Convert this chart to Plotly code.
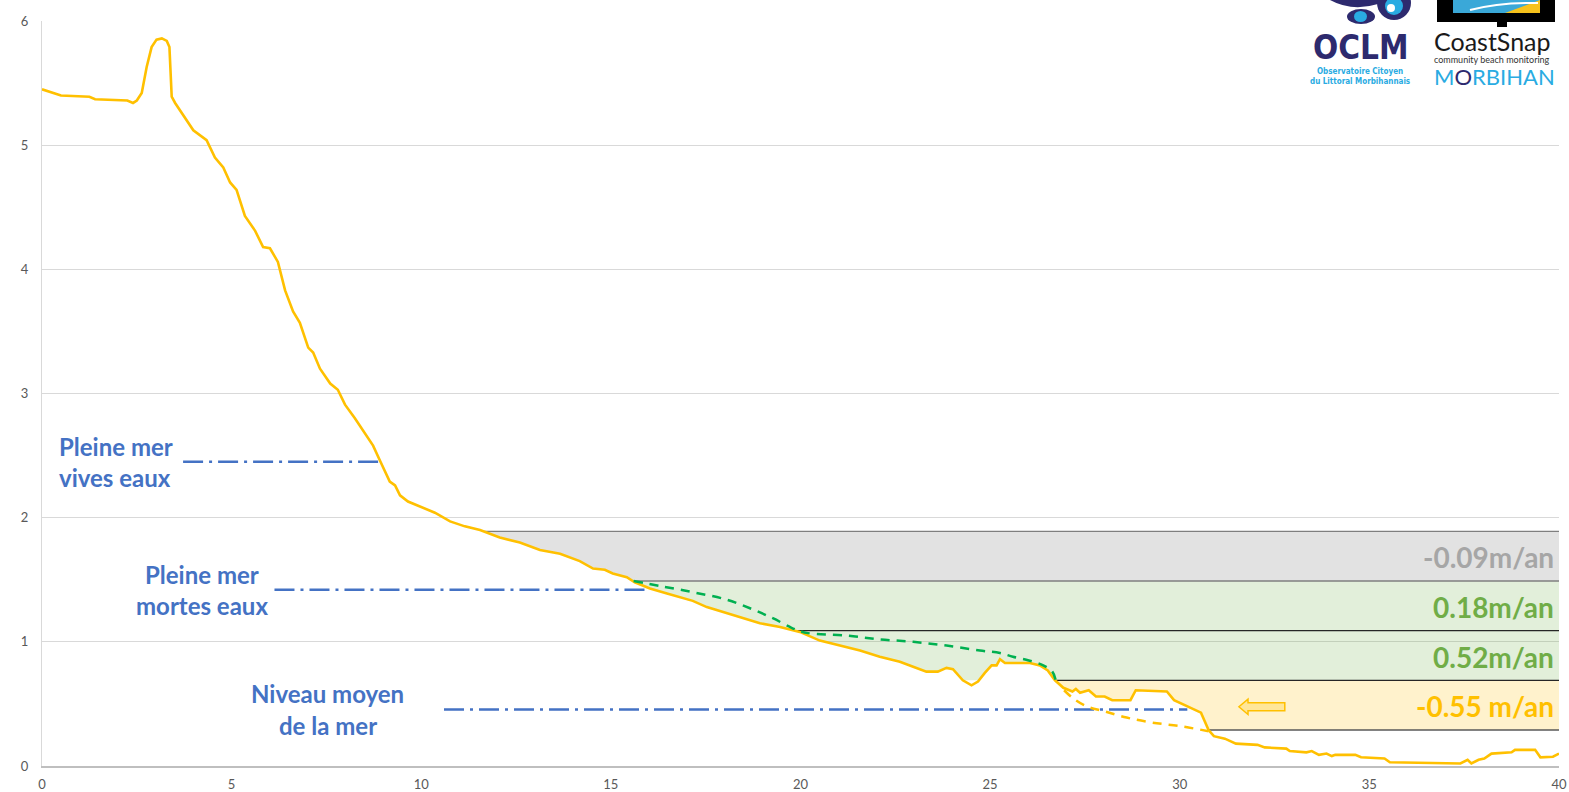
import numpy as np
import plotly.graph_objects as go

# ---------------- data ----------------
dist = [0.00, 0.20, 0.50, 1.25, 1.40, 2.25, 2.40, 2.50, 2.63, 2.76, 2.89, 3.02, 3.16, 3.29, 3.36,
        3.42, 3.51, 3.99, 4.34, 4.56, 4.78, 4.96, 5.13, 5.35, 5.62, 5.83, 6.01, 6.22, 6.41, 6.62,
        6.80, 7.02, 7.15, 7.33, 7.60, 7.80, 7.99, 8.25, 8.52, 8.73, 8.91, 9.04, 9.17, 9.31, 9.44,
        9.65, 9.97, 10.36, 10.76, 11.15, 11.55, 12.07, 12.60, 13.13, 13.66, 14.18, 14.53, 14.84,
        15.05, 15.42, 15.63, 16.03, 16.48, 16.82, 17.16, 17.53, 17.95, 18.40, 18.93, 19.46, 19.98,
        20.51, 21.04, 21.57, 22.09, 22.62, 22.97, 23.32, 23.62, 23.85, 24.02, 24.28, 24.51, 24.68,
        24.86, 25.04, 25.17, 25.26, 25.39, 26.05, 26.31, 26.52, 26.71, 26.93, 27.17, 27.26, 27.37,
        27.60, 27.79, 28.02, 28.22, 28.70, 28.84, 29.66, 29.85, 30.13, 30.43, 30.56, 30.76, 30.90,
        31.19, 31.48, 32.05, 32.24, 32.81, 32.90, 33.34, 33.48, 33.67, 33.87, 34.01, 34.10, 34.63,
        34.78, 35.40, 35.54, 37.40, 37.59, 37.69, 37.88, 38.03, 38.22, 38.75, 38.84, 39.37, 39.51,
        39.84, 40.00]
elev = [5.45, 5.43, 5.40, 5.39, 5.37, 5.36, 5.34, 5.36, 5.42, 5.63, 5.79, 5.85, 5.86, 5.84, 5.79,
        5.39, 5.34, 5.12, 5.04, 4.90, 4.82, 4.70, 4.64, 4.43, 4.31, 4.18, 4.17, 4.06, 3.83, 3.66,
        3.57, 3.37, 3.33, 3.20, 3.08, 3.03, 2.91, 2.80, 2.67, 2.58, 2.46, 2.37, 2.29, 2.26, 2.18,
        2.13, 2.09, 2.04, 1.97, 1.93, 1.90, 1.84, 1.80, 1.74, 1.71, 1.65, 1.59, 1.58,
        1.55, 1.52, 1.48, 1.43, 1.39, 1.36, 1.33, 1.28, 1.24, 1.20, 1.15, 1.12, 1.08,
        1.01, 0.97, 0.93, 0.88, 0.84, 0.80, 0.76, 0.76, 0.79, 0.78, 0.69, 0.65, 0.68,
        0.75, 0.81, 0.81, 0.86, 0.83, 0.83, 0.81, 0.77, 0.69, 0.63, 0.60, 0.62, 0.59,
        0.61, 0.56, 0.56, 0.53, 0.53, 0.61, 0.60, 0.53, 0.49, 0.45, 0.43, 0.29, 0.24,
        0.22, 0.18, 0.17, 0.15, 0.14, 0.12, 0.11, 0.12, 0.09, 0.10, 0.08, 0.09, 0.09,
        0.07, 0.06, 0.03, 0.02, 0.05, 0.02, 0.05, 0.06, 0.10, 0.11, 0.13, 0.13, 0.07,
        0.075, 0.10]

green_dash_x = [15.60, 16.29, 17.16, 18.05, 18.75, 19.27, 19.72, 19.95, 20.20, 21.21, 22.09, 22.97,
                23.85, 24.73, 25.26, 25.60, 26.02, 26.40, 26.64, 26.73]
green_dash_y = [1.49, 1.45, 1.40, 1.34, 1.26, 1.19, 1.12, 1.09, 1.07, 1.05, 1.02, 1.00,
                0.97, 0.93, 0.91, 0.88, 0.85, 0.81, 0.76, 0.69]

orange_dash_x = [26.95, 27.17, 27.55, 28.02, 28.60, 29.27, 30.03, 30.76]
orange_dash_y = [0.61, 0.55, 0.48, 0.44, 0.39, 0.35, 0.32, 0.28]

band_levels = [1.89, 1.49, 1.09, 0.69, 0.29]
band_rates = ["-0.09m/an", "0.18m/an", "0.52m/an", "-0.55 m/an"]

tide_names = [["Pleine mer", "vives eaux"], ["Pleine mer", "mortes eaux"], ["Niveau moyen", "de la mer"]]
tide_levels = [2.45, 1.42, 0.455]
tide_start = [3.72, 6.13, 10.6]
tide_end = [8.96, 16.02, 30.2]

x_ticks = [0, 5, 10, 15, 20, 25, 30, 35, 40]
y_ticks = [0, 1, 2, 3, 4, 5, 6]

# ---------------- styles ----------------
ORANGE = "#ffc000"
BLUE = "#4472c4"
GREEN = "#70ad47"
GREEN_DASH = "#00b050"
GREY_TXT = "#a6a6a6"
FONT = "Lato, Open Sans, sans-serif"

X = np.array(dist, dtype=float)
Y = np.array(elev, dtype=float)


def last_down_cross(level):
    xc = None
    for i in range(len(X) - 1):
        if Y[i] >= level > Y[i + 1]:
            t = (Y[i] - level) / (Y[i] - Y[i + 1])
            xc = (X[i] + t * (X[i + 1] - X[i]), i)
    return xc


def band_polygon(lo, hi):
    x0, i0 = last_down_cross(hi)
    px, py = [x0], [hi]
    for j in range(i0 + 1, len(X)):
        xa, ya, xb, yb = X[j - 1], Y[j - 1], X[j], Y[j]
        for lev in (lo, hi):
            if (ya - lev) * (yb - lev) < 0:
                t = (ya - lev) / (ya - yb)
                xi = xa + t * (xb - xa)
                if xi > x0:
                    px.append(xi)
                    py.append(lev)
        px.append(xb)
        py.append(min(max(yb, lo), hi))
    order = np.argsort(px, kind="stable")
    px = list(np.array(px)[order])
    py = list(np.array(py)[order])
    return px + [X[-1], x0], py + [hi, hi]


fig = go.Figure()

# band fills
fills = [(band_levels[1], band_levels[0], "rgba(0,0,0,0.115)"),
         (band_levels[3], band_levels[1], "rgba(112,173,71,0.2)"),
         (band_levels[4], band_levels[3], "rgba(255,192,0,0.2)")]
for lo, hi, col in fills:
    bx, by = band_polygon(lo, hi)
    fig.add_trace(go.Scatter(x=bx, y=by, mode="lines", fill="toself", fillcolor=col,
                             line=dict(width=0), hoverinfo="skip"))

# band boundary lines
line_cols = ["#7f7f7f", "#7f7f7f", "#262626", "#262626", "#595959"]
for lev, col in zip(band_levels, line_cols):
    xs, _ = last_down_cross(lev)
    fig.add_trace(go.Scatter(x=[xs, X[-1]], y=[lev, lev], mode="lines",
                             line=dict(color=col, width=1.3), hoverinfo="skip"))

# tide dash-dot lines
for lev, xa, xb in zip(tide_levels, tide_start, tide_end):
    fig.add_trace(go.Scatter(x=[xa, xb], y=[lev, lev], mode="lines",
                             line=dict(color=BLUE, width=2.5, dash="20px,6px,3px,6px"),
                             hoverinfo="skip"))

# profile
fig.add_trace(go.Scatter(x=dist, y=elev, mode="lines",
                         line=dict(color=ORANGE, width=2.6), hoverinfo="skip"))

# dashed projections
fig.add_trace(go.Scatter(x=green_dash_x, y=green_dash_y, mode="lines",
                         line=dict(color=GREEN_DASH, width=2.5, dash="9px,7px", shape="spline"),
                         hoverinfo="skip"))
fig.add_trace(go.Scatter(x=orange_dash_x, y=orange_dash_y, mode="lines",
                         line=dict(color=ORANGE, width=2.5, dash="9px,7px", shape="spline"),
                         hoverinfo="skip"))

annotations = []
# tide labels
tide_pos = [(0.40, "left"), (4.22, "center"), (7.54, "center")]
for (names, lev, (tx, anc)) in zip(tide_names, tide_levels, tide_pos):
    for k, nm in enumerate(names):
        annotations.append(dict(x=tx, y=lev + 0.125 - k * 0.25, xref="x", yref="y", text="<b>%s</b>" % nm,
                                showarrow=False, xanchor=anc, yanchor="middle",
                                font=dict(family=FONT, size=24, color=BLUE)))

# rate labels
rate_cols = [GREY_TXT, GREEN, GREEN, ORANGE]
for k, (txt, col) in enumerate(zip(band_rates, rate_cols)):
    yc = (band_levels[k] + band_levels[k + 1]) / 2
    annotations.append(dict(x=39.93, y=yc - 0.01, xref="x", yref="y", text="<b>%s</b>" % txt,
                            showarrow=False, xanchor="right", yanchor="middle",
                            font=dict(family=FONT, size=28, color=col)))

# ---------------- logos (decoration, pixel based) ----------------
L, R, T, B = 42, 1559, 21, 766


def fx(px):
    return (px - L) / (R - L)


def fy(py):
    return (B - py) / (B - T)


NAVY = "#2d2a6e"
CYAN = "#29abe2"
shapes = []
# eyes
shapes.append(dict(type="path", xref="paper", yref="paper",
                   path="M %f,%f Q %f,%f %f,%f L %f,%f Z" % (fx(1330), fy(0), fx(1352), fy(12), fx(1378), fy(4),
                                                           fx(1378), fy(0)),
                   fillcolor=NAVY, line=dict(width=0)))
shapes.append(dict(type="circle", xref="paper", yref="paper", x0=fx(1377), x1=fx(1411), y0=fy(-14), y1=fy(20),
                   fillcolor=NAVY, line=dict(width=0)))
shapes.append(dict(type="circle", xref="paper", yref="paper", x0=fx(1385), x1=fx(1403), y0=fy(-3), y1=fy(15),
                   fillcolor=CYAN, line=dict(width=0)))
shapes.append(dict(type="circle", xref="paper", yref="paper", x0=fx(1387), x1=fx(1395), y0=fy(4), y1=fy(12),
                   fillcolor="white", line=dict(width=0)))
shapes.append(dict(type="circle", xref="paper", yref="paper", x0=fx(1347), x1=fx(1375), y0=fy(9), y1=fy(24),
                   fillcolor=NAVY, line=dict(width=0)))
shapes.append(dict(type="circle", xref="paper", yref="paper", x0=fx(1354), x1=fx(1367), y0=fy(11), y1=fy(22),
                   fillcolor=CYAN, line=dict(width=0)))
# phone
shapes.append(dict(type="rect", xref="paper", yref="paper", x0=fx(1437), x1=fx(1555), y0=fy(-12), y1=fy(22),
                   fillcolor="black", line=dict(width=0)))
shapes.append(dict(type="rect", xref="paper", yref="paper", x0=fx(1453), x1=fx(1540), y0=fy(-5), y1=fy(13),
                   fillcolor="#3aa8d8", line=dict(width=0)))
shapes.append(dict(type="path", xref="paper", yref="paper",
                   path="M %f,%f L %f,%f L %f,%f Z" % (fx(1505), fy(13), fx(1540), fy(13), fx(1540), fy(0)),
                   fillcolor="#f6c21c", line=dict(width=0)))
shapes.append(dict(type="path", xref="paper", yref="paper",
                   path="M %f,%f Q %f,%f %f,%f" % (fx(1470), fy(10), fx(1500), fy(2), fx(1538), fy(3)),
                   line=dict(color="white", width=2)))
shapes.append(dict(type="rect", xref="paper", yref="paper", x0=fx(1497), x1=fx(1507), y0=fy(22), y1=fy(27),
                   fillcolor="black", line=dict(width=0)))

# arrow in the yellow band
ax_tip, ax_neck, ax_end, ay = 31.56, 31.80, 32.77, 0.477
hh, bh = 0.062, 0.032
shapes.append(dict(type="path", xref="x", yref="y", layer="above",
                   path="M %f,%f L %f,%f L %f,%f L %f,%f L %f,%f L %f,%f L %f,%f Z" % (
                       ax_tip, ay, ax_neck, ay + hh, ax_neck, ay + bh, ax_end, ay + bh,
                       ax_end, ay - bh, ax_neck, ay - bh, ax_neck, ay - hh),
                   fillcolor="#ffe699", line=dict(color=ORANGE, width=1.5)))


def logo_text(px, py, text, family, size, color):
    return dict(x=fx(px), y=fy(py), xref="paper", yref="paper", text=text, showarrow=False,
                xanchor="center", yanchor="middle", font=dict(family=family, size=size, color=color))


COND = "DejaVu Sans Condensed, DejaVu Sans"
annotations += [
    logo_text(1361, 47, "<b>OCLM</b>", COND, 33, NAVY),
    logo_text(1360, 71.5, "<b>Observatoire Citoyen</b>", COND, 8, CYAN),
    logo_text(1360, 81, "<b>du Littoral Morbihannais</b>", COND, 8, CYAN),
    logo_text(1492, 41, "CoastSnap", FONT, 25, "#1a1a1a"),
    logo_text(1492, 60, "community beach monitoring", FONT, 9, "#333333"),
    logo_text(1494, 77, "M<span style='color:%s'>O</span>RBIHAN" % NAVY, FONT, 22, CYAN),
]

fig.update_layout(
    template="none",
    width=1569, height=792,
    margin=dict(l=L, r=1569 - R, t=T, b=792 - B, pad=0),
    paper_bgcolor="white", plot_bgcolor="white",
    showlegend=False,
    shapes=shapes,
    annotations=annotations,
    xaxis=dict(range=[0, 40], tickvals=x_ticks, showgrid=False, zeroline=False, showline=True,
               linecolor="#bfbfbf", linewidth=1.5, ticks="", automargin=False, ticklabelstandoff=6,
               tickfont=dict(family=FONT, size=13, color="#595959")),
    yaxis=dict(range=[0, 6], tickvals=y_ticks, showgrid=True, gridcolor="#d9d9d9", gridwidth=1,
               zeroline=False, showline=True, linecolor="#d9d9d9", linewidth=1, ticks="",
               automargin=False, ticklabelstandoff=10,
               tickfont=dict(family=FONT, size=13, color="#595959")),
)

fig.write_html("out.html", config={"displayModeBar": False},
               post_script="document.body.style.margin='0';document.body.style.overflow='hidden';")
